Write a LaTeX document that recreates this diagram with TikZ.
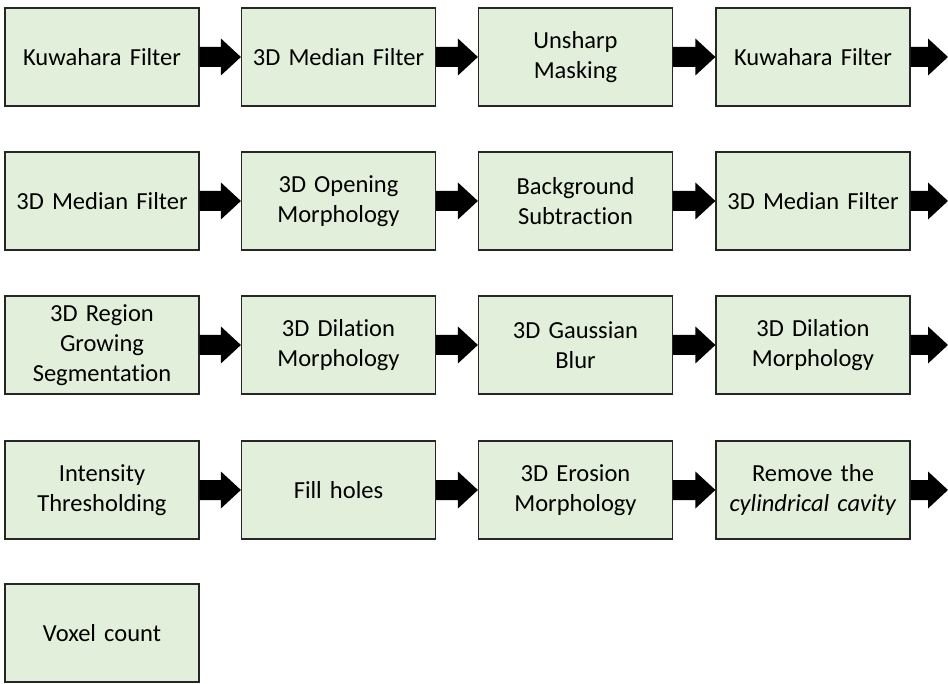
\documentclass[tikz,border=0pt]{standalone}
\usepackage{fontspec}
\setmainfont{Carlito}[Ligatures=NoCommon]
\usetikzlibrary{calc}
\definecolor{stagegreen}{RGB}{226,239,218}
% block arrow from #1 to #2 (shaft 20, head 20 long and 37 wide)
\newcommand{\flowarrow}[2]{%
  \fill[black] ($(#1)+(0,-10)$) -- ($(#2)+(-20,-10)$) -- ++(0,-8.5) -- (#2)
    -- ++(-20,18.5) -- ++(0,-8.5) -- ($(#1)+(0,10)$) -- cycle;}
\begin{document}
\begin{tikzpicture}[x=1pt,y=-1pt,
    stage/.style={draw=black!85,line width=1.2pt,fill=stagegreen,
      minimum width=194pt,minimum height=98pt,inner sep=0pt,
      text width=190pt,align=center,font=\fontsize{24.5}{30}\selectfont}]
    \useasboundingbox (0,0) rectangle (948,684);
    % row 1
    \node[stage] (k1) at (102,57) {Kuwahara Filter};
    \node[stage] (m1) at (338.5,57) {3D Median Filter};
    \node[stage] (u1) at (575.5,57) {Unsharp\\Masking};
    \node[stage] (k2) at (813,57) {Kuwahara Filter};
    \coordinate (e1) at (948,57);
    % row 2
    \node[stage] (m2) at (102,201) {3D Median Filter};
    \node[stage] (o1) at (338.5,201) {3D Opening\\Morphology};
    \node[stage] (b1) at (575.5,201) {Background\\Subtraction};
    \node[stage] (m3) at (813,201) {3D Median Filter};
    \coordinate (e2) at (948,201);
    % row 3
    \node[stage] (r1) at (102,345) {3D Region\\Growing\\Segmentation};
    \node[stage] (d1) at (338.5,345) {3D Dilation\\Morphology};
    \node[stage] (g1) at (575.5,345) {3D Gaussian\\Blur};
    \node[stage] (d2) at (813,345) {3D Dilation\\Morphology};
    \coordinate (e3) at (948,345);
    % row 4
    \node[stage] (t1) at (102,490) {Intensity\\Thresholding};
    \node[stage] (f1) at (338.5,490) {Fill holes};
    \node[stage] (er1) at (575.5,490) {3D Erosion\\Morphology};
    \node[stage] (c1) at (813,490) {Remove the\\\textit{cylindrical cavity}};
    \coordinate (e4) at (948,490);
    % row 5
    \node[stage] (v1) at (102,633) {Voxel count};
    % arrows
    \flowarrow{k1.east}{m1.west}
    \flowarrow{m1.east}{u1.west}
    \flowarrow{u1.east}{k2.west}
    \flowarrow{k2.east}{e1}
    \flowarrow{m2.east}{o1.west}
    \flowarrow{o1.east}{b1.west}
    \flowarrow{b1.east}{m3.west}
    \flowarrow{m3.east}{e2}
    \flowarrow{r1.east}{d1.west}
    \flowarrow{d1.east}{g1.west}
    \flowarrow{g1.east}{d2.west}
    \flowarrow{d2.east}{e3}
    \flowarrow{t1.east}{f1.west}
    \flowarrow{f1.east}{er1.west}
    \flowarrow{er1.east}{c1.west}
    \flowarrow{c1.east}{e4}
\end{tikzpicture}
\end{document}
